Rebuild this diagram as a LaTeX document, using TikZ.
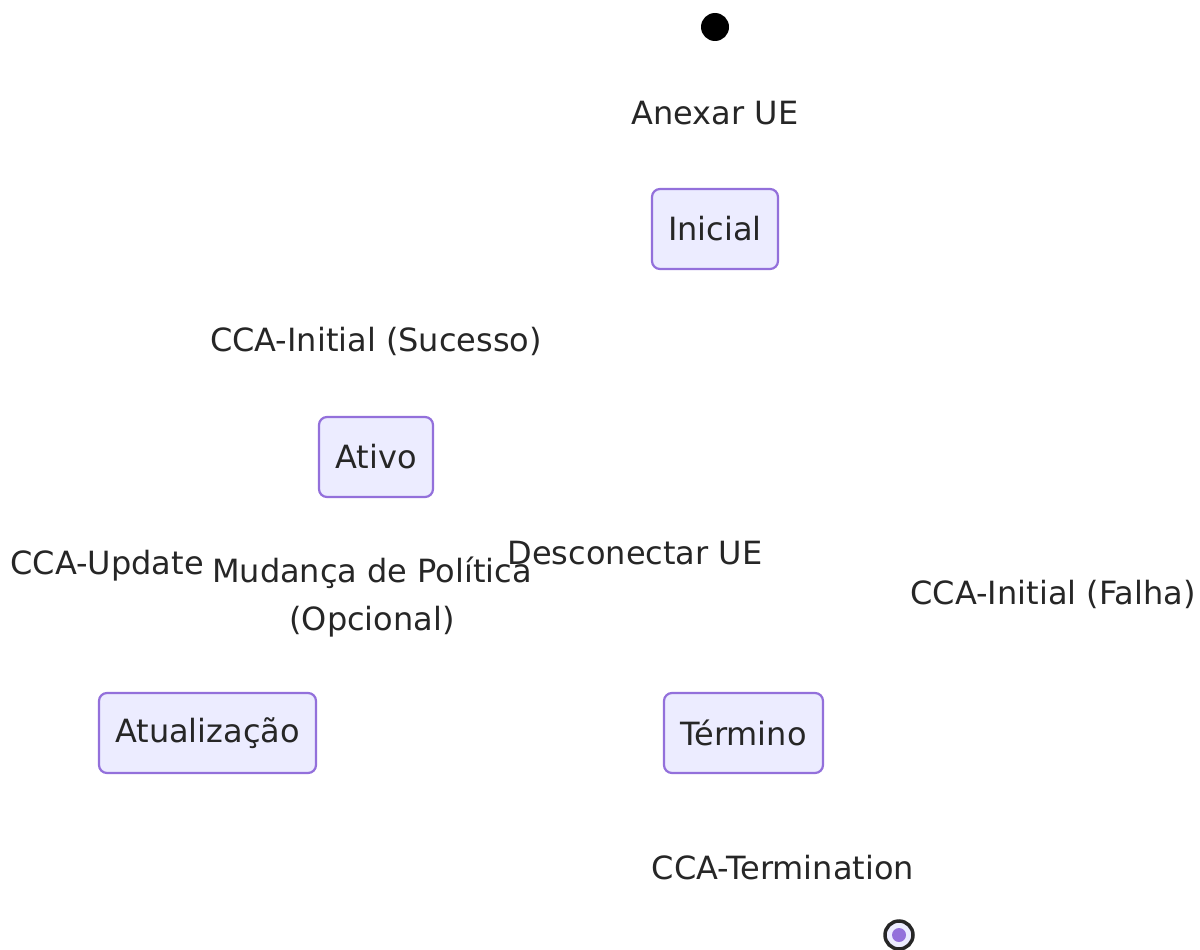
\documentclass[tikz,border=0pt]{standalone}
\usepackage{fontspec}
\setmainfont{DejaVu Sans}
\definecolor{nfill}{HTML}{ECECFF}
\definecolor{nline}{HTML}{9370DB}
\definecolor{txt}{HTML}{262626}
\begin{document}
\begin{tikzpicture}[x=1pt,y=-1pt,
  every node/.style={font=\fontsize{32}{48}\selectfont, text=txt, inner sep=0pt},
  state/.style={draw=nline, fill=nfill, line width=2.2pt, rounded corners=8pt},
  lbl/.style={align=center}]
\useasboundingbox (0,0) rectangle (1200,950);
\node[circle, fill=black, minimum size=28pt] (start) at (715,27) {};
\node[lbl] (l1) at (715,113) {Anexar UE};
\node[state, minimum width=126pt, minimum height=80pt] (inicial) at (715,229) {Inicial};
\node[lbl] (l2) at (376,341) {CCA-Initial (Sucesso)};
\node[state, minimum width=114pt, minimum height=80pt] (ativo) at (376,457) {Ativo};
\node[lbl] (l3) at (107,566) {CCA-Update};
\node[lbl] (l4) at (372,597) {Mudança de Política\\(Opcional)};
\node[lbl] (l5) at (635,553) {Desconectar UE};
\node[lbl] (l6) at (1053,594) {CCA-Initial (Falha)};
\node[state, minimum width=217pt, minimum height=80pt] (atual) at (207.5,733) {Atualização};
\node[state, minimum width=159pt, minimum height=80pt] (termino) at (743.5,733) {Término};
\node[lbl] (l7) at (783,868) {CCA-Termination};
\node[circle, draw=txt, line width=3.5pt, fill=nfill, minimum size=28pt] (stop) at (899,935) {};
\node[circle, fill=nline, minimum size=14pt] (stopin) at (stop.center) {};
\end{tikzpicture}
\end{document}
